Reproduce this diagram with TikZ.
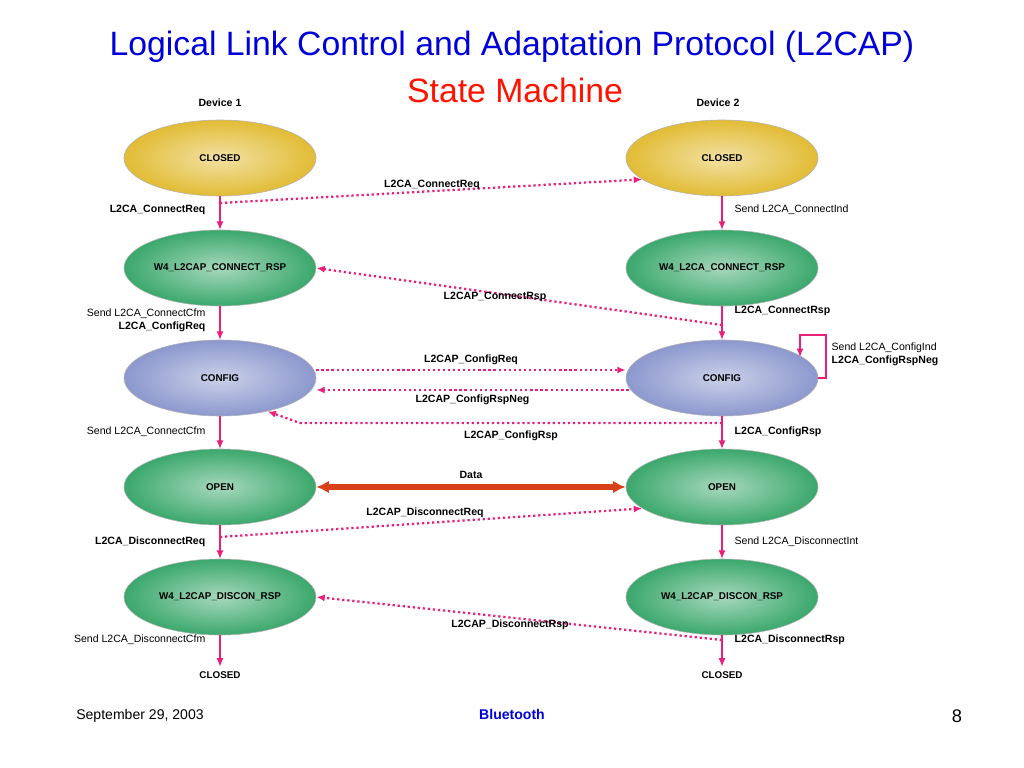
\documentclass[tikz,border=0pt]{standalone}
\usepackage{fontspec}
\setmainfont{Liberation Sans}
\usetikzlibrary{arrows.meta}
\usetikzlibrary{shapes.geometric}
\usetikzlibrary{calc}
\definecolor{goldst}{HTML}{E2BC35}
\definecolor{greenst}{HTML}{3BA86C}
\definecolor{bluest}{HTML}{8C98CE}
\definecolor{pinkline}{HTML}{E8207A}
\definecolor{dataline}{HTML}{D8401A}
\begin{document}
\begin{tikzpicture}
[x=0.025cm,y=-0.025cm,
  statedecorate/.style={shape=ellipse,draw=gray!60,thin,
    minimum width=4.8cm,minimum height=1.9cm,inner sep=-6pt,
    font=\fontsize{7}{8}\selectfont\bfseries},
  closedstate/.style={statedecorate,shading=radial,inner color=goldst!45!white,outer color=goldst},
  waitstate/.style={statedecorate,shading=radial,inner color=greenst!45!white,outer color=greenst},
  configstate/.style={statedecorate,shading=radial,inner color=bluest!45!white,outer color=bluest},
  linedecorate/.style={-{Latex[length=6pt,width=5pt]},thick,pinkline},
  msgdecorate/.style={-{Latex[length=6pt,width=5pt]},pinkline,line width=1.6pt,dotted},
  labeldecorate/.style={font=\fontsize{7.5}{9}\selectfont,inner sep=1pt,text=black},
  msglabel/.style={labeldecorate,font=\fontsize{7.5}{9}\selectfont\bfseries}]
\useasboundingbox (0,0) rectangle (1024,768);
%% title
\node (title) at (512,47) {\fontsize{24}{26}\selectfont\color{blue!85!black}Logical Link Control and Adaptation Protocol (L2CAP)};
\node (subtitle) at (515,90) {\fontsize{24}{26}\selectfont\color{red!85!orange}State Machine};
\node[msglabel] (dev1) at (220,103) {Device 1};
\node[msglabel] (dev2) at (718,103) {Device 2};
%% states
\foreach \nodename/\x/\y/\kind/\text in {cl1/220/158/closedstate/CLOSED, cl2/722/158/closedstate/CLOSED,
  wc1/220/268/waitstate/W4\_L2CAP\_CONNECT\_RSP, wc2/722/268/waitstate/W4\_L2CA\_CONNECT\_RSP,
  cf1/220/378/configstate/CONFIG, cf2/722/378/configstate/CONFIG,
  op1/220/487/waitstate/OPEN, op2/722/487/waitstate/OPEN,
  wd1/220/597/waitstate/W4\_L2CAP\_DISCON\_RSP, wd2/722/597/waitstate/W4\_L2CAP\_DISCON\_RSP}
{
  \node (\nodename) at (\x,\y) [\kind] {\text};
}
\node[font=\fontsize{7}{8}\selectfont\bfseries] (end1) at (220,675) {CLOSED};
\node[font=\fontsize{7}{8}\selectfont\bfseries] (end2) at (722,675) {CLOSED};
%% transitions
\path
\foreach \startnode/\endnode in {cl1/wc1, wc1/cf1, cf1/op1, op1/wd1, wd1/end1,
  cl2/wc2, wc2/cf2, cf2/op2, op2/wd2, wd2/end2}
{
  (\startnode) edge[linedecorate] (\endnode)
};
%% transition labels
\node[msglabel,anchor=east] at (207,210) {L2CA\_ConnectReq};
\node[labeldecorate,anchor=east,align=right] at (207,320) {Send L2CA\_ConnectCfm\\\textbf{L2CA\_ConfigReq}};
\node[labeldecorate,anchor=east] at (207,432) {Send L2CA\_ConnectCfm};
\node[msglabel,anchor=east] at (207,542) {L2CA\_DisconnectReq};
\node[labeldecorate,anchor=east] at (207,640) {Send L2CA\_DisconnectCfm};
\node[labeldecorate,anchor=west] at (733,210) {Send L2CA\_ConnectInd};
\node[msglabel,anchor=west] at (733,311) {L2CA\_ConnectRsp};
\node[msglabel,anchor=west] at (733,432) {L2CA\_ConfigRsp};
\node[labeldecorate,anchor=west] at (733,542) {Send L2CA\_DisconnectInt};
\node[msglabel,anchor=west] at (733,640) {L2CA\_DisconnectRsp};
\node[labeldecorate,anchor=west,align=left] at (830,354) {Send L2CA\_ConfigInd\\\textbf{L2CA\_ConfigRspNeg}};
%% self loop
\coordinate (loopa) at (826,370);
\coordinate (loopb) at (800,357);
\draw[linedecorate] (cf2.east) -| (loopa) |- ($(loopb)+(0,-22)$) -- (loopb);
%% messages
\coordinate (m1) at (220,203);
\coordinate (m2) at (722,325);
\coordinate (m3) at (722,423);
\coordinate (m4) at (220,537);
\coordinate (m5) at (722,640);
\coordinate (m6) at (300,423);
\draw[msgdecorate] (m1) -- (cl2.-165);
\node[msglabel] at (432,185) {L2CA\_ConnectReq};
\draw[msgdecorate] (m2) -- (wc1.east);
\node[msglabel] at (495,297) {L2CAP\_ConnectRsp};
\draw[msgdecorate] ($(cf1.east)+(0,-8)$) -- node[msglabel,above=2pt] {L2CAP\_ConfigReq} ($(cf2.west)+(0,-8)$);
\draw[msgdecorate] ($(cf2.west)+(3,12)$) -- node[msglabel,below=2pt] {L2CAP\_ConfigRspNeg} ($(cf1.east)+(0,12)$);
\draw[msgdecorate] (m3) -- node[msglabel,pos=0.5,below=4pt] {L2CAP\_ConfigRsp} (m6) -- (cf1.-35);
\draw[{Latex[length=9pt,width=9pt]}-{Latex[length=9pt,width=9pt]},dataline,line width=4pt] (op1.east) -- node[msglabel,above=3pt] {Data} (op2.west);
\draw[msgdecorate] (m4) -- (op2.-165);
\node[msglabel] at (425,513) {L2CAP\_DisconnectReq};
\draw[msgdecorate] (m5) -- (wd1.east);
\node[msglabel] at (510,625) {L2CAP\_DisconnectRsp};
%% footer
\node[font=\fontsize{10}{12}\selectfont] (date) at (140,716) {September 29, 2003};
\node[font=\fontsize{10}{12}\selectfont\bfseries,text=blue!85!black] (topic) at (512,714) {Bluetooth};
\node[font=\fontsize{13}{14}\selectfont] (page) at (957,716) {8};
\end{tikzpicture}
\end{document}
